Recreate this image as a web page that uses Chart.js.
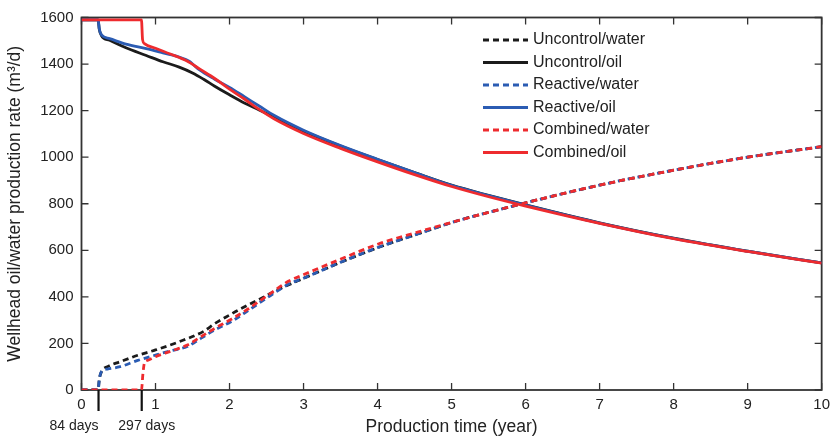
<!DOCTYPE html>
<html lang="en">
<head>
<meta charset="UTF-8">
<title>Wellhead oil/water production rate</title>
<script src="https://cdn.jsdelivr.net/npm/chart.js"></script>
<style>
  body { margin: 0; background: #fff; }
</style>
</head>
<body>
<canvas id="rateChart" width="836" height="436"></canvas>
<script>
// values (years, m3/d)
const uncWaterX = [0, 0.225, 0.24, 0.27, 0.35, 0.52, 0.75, 1.0, 1.3, 1.65, 1.8, 2.0, 2.13, 2.4, 2.66, 2.93, 3.47, 4.01, 4.54, 5.08, 5.62, 6.0, 7.0, 8.0, 9.0, 10.0];
const uncWaterY = [0, 0, 45, 79, 100, 121, 148, 172, 205, 252, 285, 322, 345, 389, 432, 470, 544, 612, 670, 727, 773, 804, 880, 944, 1000, 1045];

const uncOilX = [0, 0.225, 0.24, 0.27, 0.38, 0.6, 0.875, 1.1, 1.32, 1.5, 1.65, 1.8, 2.0, 2.2, 2.4, 2.6, 3.0, 3.5, 4.0, 4.5, 5.0, 5.5, 6.0, 7.0, 8.0, 9.0, 10.0];
const uncOilY = [1590, 1590, 1550, 1522, 1502, 1470, 1437, 1410, 1387, 1362, 1335, 1305, 1268, 1233, 1203, 1172, 1112, 1048, 990, 934, 880, 836, 795, 718, 652, 596, 546];

const reaWaterX = [0, 0.225, 0.24, 0.27, 0.35, 0.52, 0.75, 1.0, 1.2, 1.43, 1.63, 1.8, 2.03, 2.26, 2.55, 2.8, 3.0, 3.47, 4.01, 4.54, 5.08, 5.62, 6.0, 7.0, 8.0, 9.0, 10.0];
const reaWaterY = [0, 0, 45, 79, 90, 100, 126, 150, 168, 187, 225, 258, 295, 343, 405, 455, 480, 545, 613, 670, 727, 773, 804, 880, 944, 1000, 1045];

const reaOilX = [0, 0.225, 0.24, 0.27, 0.38, 0.6, 0.875, 1.1, 1.32, 1.41, 1.46, 1.52, 1.59, 1.8, 2.0, 2.2, 2.4, 2.6, 3.0, 3.5, 4.0, 4.5, 5.0, 5.5, 6.0, 7.0, 8.0, 9.0, 10.0];
const reaOilY = [1590, 1590, 1552, 1525, 1509, 1486, 1466, 1448, 1430, 1419, 1411, 1395, 1376, 1335, 1300, 1260, 1220, 1180, 1116, 1050, 991, 934, 879, 835, 794, 717, 651, 596, 546];

const comWaterX = [0, 0.81, 0.83, 0.85, 0.9, 1.0, 1.2, 1.43, 1.63, 1.8, 2.03, 2.26, 2.53, 2.8, 2.93, 3.47, 4.01, 4.54, 5.08, 5.62, 6.0, 7.0, 8.0, 9.0, 10.0];
const comWaterY = [0, 0, 70, 116, 128, 143, 166, 193, 232, 265, 305, 350, 410, 468, 486, 558, 627, 678, 727, 773, 804, 880, 944, 1000, 1045];

const comOilX = [0, 0.81, 0.825, 0.85, 1.0, 1.2, 1.42, 1.6, 1.8, 2.0, 2.2, 2.4, 2.6, 3.0, 3.5, 4.0, 4.5, 5.0, 5.5, 6.0, 7.0, 8.0, 9.0, 10.0];
const comOilY = [1590, 1590, 1505, 1488, 1468, 1443, 1414, 1378, 1338, 1292, 1250, 1205, 1165, 1102, 1038, 980, 925, 874, 830, 790, 716, 650, 595, 545];

const seriesNames = ['Uncontrol/water', 'Uncontrol/oil', 'Reactive/water', 'Reactive/oil', 'Combined/water', 'Combined/oil'];
const markDays = [84, 297];
const markLabels = ['84 days', '297 days'];

const FONT = "'Liberation Sans', Arial, Helvetica, sans-serif";
const BLACK = '#1b1b1b', BLUE = '#2b5cb3', RED = '#ee2b2e';

function pts(xs, ys) { return xs.map((x, i) => ({ x: x, y: ys[i] })); }

function series(label, xs, ys, color, dashed, order) {
    return {
        label: label,
        data: pts(xs, ys),
        borderColor: color,
        borderWidth: 2.8,
        borderDash: dashed ? [6, 4] : [],
        pointRadius: 0,
        cubicInterpolationMode: 'monotone',
        fill: false,
        order: order
    };
}

// box with inward ticks, drawn under the lines
const framePlugin = {
    id: 'frame',
    beforeDatasetsDraw(chart) {
        const { ctx, chartArea: a, scales: { x, y } } = chart;
        ctx.save();
        ctx.strokeStyle = '#333';
        ctx.lineWidth = 1.8;
        ctx.strokeRect(a.left, a.top, a.width, a.height);
        ctx.lineWidth = 1.3;
        ctx.beginPath();
        x.ticks.forEach(t => {
            const px = x.getPixelForValue(t.value);
            ctx.moveTo(px, a.bottom); ctx.lineTo(px, a.bottom - 7);
            ctx.moveTo(px, a.top); ctx.lineTo(px, a.top + 7);
        });
        y.ticks.forEach(t => {
            const py = y.getPixelForValue(t.value);
            ctx.moveTo(a.left, py); ctx.lineTo(a.left + 7, py);
            ctx.moveTo(a.right, py); ctx.lineTo(a.right - 7, py);
        });
        ctx.stroke();
        ctx.restore();
    },
    afterDraw(chart) {
        const { ctx, chartArea: a, scales: { x } } = chart;
        ctx.save();
        // day markers under the x axis
        ctx.strokeStyle = '#111';
        ctx.lineWidth = 2.2;
        ctx.fillStyle = '#222';
        ctx.font = '14px ' + FONT;
        ctx.textBaseline = 'middle';
        markDays.forEach((d, i) => {
            const px = x.getPixelForValue(d / 365);
            ctx.beginPath();
            ctx.moveTo(px, a.bottom);
            ctx.lineTo(px, a.bottom + 21);
            ctx.stroke();
            if (i === 0) { ctx.textAlign = 'right'; ctx.fillText(markLabels[i], px, a.bottom + 36); }
            else { ctx.textAlign = 'center'; ctx.fillText(markLabels[i], px + 5, a.bottom + 36); }
        });
        // legend
        const lx = 483, ly = 40, gap = 22.5, len = 45;
        ctx.font = '16px ' + FONT;
        ctx.textAlign = 'left';
        chart.data.datasets.forEach((ds, i) => {
            const yy = ly + i * gap;
            ctx.strokeStyle = ds.borderColor;
            ctx.lineWidth = 3;
            ctx.setLineDash(ds.borderDash);
            ctx.beginPath();
            ctx.moveTo(lx, yy);
            ctx.lineTo(lx + len, yy);
            ctx.stroke();
            ctx.setLineDash([]);
            ctx.fillStyle = '#222';
            ctx.fillText(seriesNames[i], lx + len + 5, yy);
        });
        ctx.restore();
    }
};

new Chart(document.getElementById('rateChart'), {
    type: 'line',
    data: {
        datasets: [
            series(seriesNames[0], uncWaterX, uncWaterY, BLACK, true, 3),
            series(seriesNames[1], uncOilX, uncOilY, BLACK, false, 3),
            series(seriesNames[2], reaWaterX, reaWaterY, BLUE, true, 2),
            series(seriesNames[3], reaOilX, reaOilY, BLUE, false, 2),
            series(seriesNames[4], comWaterX, comWaterY, RED, true, 1),
            series(seriesNames[5], comOilX, comOilY, RED, false, 1)
        ]
    },
    options: {
        responsive: false,
        animation: false,
        layout: { padding: { top: 17.5, right: 9.5, left: 0, bottom: 0 } },
        plugins: { legend: { display: false }, tooltip: { enabled: false } },
        scales: {
            x: {
                type: 'linear',
                min: 0, max: 10,
                grid: { display: false, drawTicks: false },
                border: { display: false },
                ticks: { stepSize: 1, padding: 6, color: '#222', font: { family: FONT, size: 15 },
                         callback: v => String(v) },
                title: { display: true, text: 'Production time (year)', color: '#222',
                         font: { family: FONT, size: 17.5, lineHeight: 1 }, padding: 0 },
                afterFit(scale) { scale.height = 46; }
            },
            y: {
                min: 0, max: 1600,
                grid: { display: false, drawTicks: false },
                border: { display: false },
                ticks: { stepSize: 200, padding: 8, color: '#222', font: { family: FONT, size: 15 },
                         callback: v => String(v) },
                title: { display: true, text: 'Wellhead oil/water production rate (m³/d)', color: '#222',
                         font: { family: FONT, size: 17.5, lineHeight: 1.2 }, padding: { top: 5, bottom: 0 } },
                afterFit(scale) { scale.width = 81.5; }
            }
        }
    },
    plugins: [framePlugin]
});
</script>
</body>
</html>
